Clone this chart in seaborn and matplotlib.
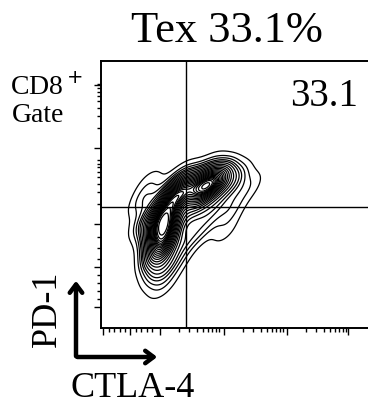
import numpy as np
import pandas as pd
import matplotlib
matplotlib.use("Agg")
import matplotlib.pyplot as plt
import seaborn as sns

sns.set_style("white")
plt.rcParams['font.family'] = ['Liberation Serif', 'DejaVu Serif']
plt.rcParams['text.color'] = 'black'

# event clusters (CTLA-4 / PD-1, axis units 0-100) with relative weight
ctla4 = [23, 23, 23.5, 22, 22, 23, 17, 16, 18,
         27, 32, 38, 43, 49, 55, 40, 30,
         35, 42, 48, 38, 32, 28, 46]
pd1 = [33, 38, 43, 28, 22, 16, 40, 48, 55,
       50, 52, 53, 55, 55, 53, 60, 57,
       45, 46, 44, 38, 33, 25, 36]
weight = [3.0, 4.0, 3.0, 2.0, 1.0, 0.4, 0.8, 0.6, 0.3,
          2.5, 2.4, 3.6, 2.8, 1.0, 0.4, 0.4, 0.4,
          1.2, 0.7, 0.5, 0.5, 0.6, 0.4, 0.3]

gate_x = 31.6
gate_y = 45.3
quadrant_pct = "33.1"
title = "Tex 33.1%"

events = pd.DataFrame({"CTLA-4": ctla4, "PD-1": pd1, "w": weight})

fig = plt.figure(figsize=(3.68, 4.04), dpi=100)
ax = fig.add_axes([0.2745, 0.188, 0.731, 0.661])

sns.kdeplot(data=events, x="CTLA-4", y="PD-1", weights="w", ax=ax,
            levels=24, thresh=0.03, bw_adjust=0.68, gridsize=200,
            color="black", linewidths=0.9)

ax.axvline(gate_x, color="black", lw=1.0)
ax.axhline(gate_y, color="black", lw=1.0)

ax.set_xlim(0, 100)
ax.set_ylim(0, 100)
ax.set_xlabel("")
ax.set_ylabel("")

# log-like tick marks
x_major = [0.7, 10.8, 21.9, 45.7, 69.1, 91.8]
y_major = [7.9, 22.8, 39.0, 67.4, 91.0]
x_minor = []
for d in [21.9, 45.7, 69.1]:
    x_minor += [d + 23 * np.log10(k) for k in range(2, 10)]
x_minor += [3, 5, 7, 9, 13, 15, 17, 19]
y_minor = []
for d in [39.0, 67.4]:
    y_minor += [d + 25 * np.log10(k) for k in range(2, 10)]
y_minor += [11, 14, 17, 20, 26, 30, 34]
ax.set_xticks(x_major)
ax.set_yticks(y_major)
ax.set_xticks(x_minor, minor=True)
ax.set_yticks(y_minor, minor=True)
ax.tick_params(which="both", direction="out", labelbottom=False, labelleft=False,
               bottom=True, left=True, color="black", width=1)
ax.tick_params(which="major", length=5)
ax.tick_params(which="minor", length=3)
for s in ax.spines.values():
    s.set_color("black")
    s.set_linewidth(1.4)

ax.text(0.955, 0.935, quadrant_pct, transform=ax.transAxes, ha="right", va="top",
        fontsize=28)

fig.text(0.617, 0.895, title, ha="center", va="baseline", fontsize=32)
fig.text(0.027, 0.765, "CD8$^+$", ha="left", va="baseline", fontsize=20)
fig.text(0.032, 0.698, "Gate", ha="left", va="baseline", fontsize=20)

# axis direction arrows
arrow = dict(arrowstyle="->,head_length=0.6,head_width=0.45", color="black", lw=3.2)
ax2 = fig.add_axes([0, 0, 1, 1], facecolor="none")
ax2.set_xlim(0, 368)
ax2.set_ylim(404, 0)
ax2.axis("off")
ax2.annotate("", xy=(76, 278), xytext=(76, 359), arrowprops=arrow)
ax2.annotate("", xy=(160, 357), xytext=(74.5, 357), arrowprops=arrow)
ax2.text(47, 309, "PD-1", rotation=90, ha="center", va="center", fontsize=26)
ax2.text(70, 397, "CTLA-4", ha="left", va="baseline", fontsize=26)

fig.savefig("out.png", dpi=100)
